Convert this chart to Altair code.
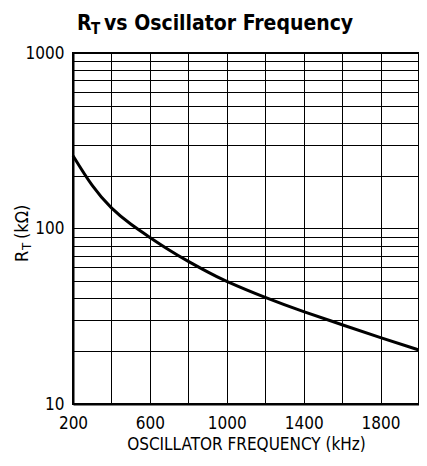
import altair as alt
import pandas as pd

freq = [200, 300, 400, 500, 600, 700, 800, 900, 1000, 1200, 1400, 1600, 1800, 2000]
rt = [260, 176, 131, 106, 89, 75.5, 65, 56.6, 50, 40.5, 33.6, 28.3, 23.9, 20.3]

x_ticks = [200, 400, 600, 800, 1000, 1200, 1400, 1600, 1800, 2000]
x_labels = [200, 600, 1000, 1400, 1800]
y_ticks = [10, 20, 30, 40, 50, 60, 70, 80, 90, 100, 200, 300, 400, 500, 600, 700, 800, 900, 1000]
y_labels = [10, 100, 1000]

FONT = "DejaVu Sans Condensed, DejaVu Sans, sans-serif"

df = pd.DataFrame({"f": freq, "r": rt})

W, H = 346, 351

xlab_expr = "indexof([" + ",".join(str(v) for v in x_labels) + "], datum.value) >= 0 ? format(datum.value, 'd') : ''"
ylab_expr = "indexof([" + ",".join(str(v) for v in y_labels) + "], datum.value) >= 0 ? format(datum.value, 'd') : ''"

x = alt.X("f:Q", scale=alt.Scale(domain=[200, 2000], nice=False),
          axis=alt.Axis(values=x_ticks, labelExpr=xlab_expr, title="OSCILLATOR FREQUENCY (kHz)",
                        grid=True, ticks=False, labelPadding=11,
                        titleY=45, titleBaseline="alphabetic",
                        labelFontSize=17, titleFontSize=17, labelFont=FONT, titleFont=FONT,
                        titleFontWeight="normal", labelColor="black", titleColor="black",
                        gridColor="black", gridOpacity=1, gridWidth=1,
                        domainColor="black", domainWidth=2, labelFlush=False))
y = alt.Y("r:Q", scale=alt.Scale(type="log", domain=[10, 1000], nice=False),
          axis=alt.Axis(values=y_ticks, labelExpr=ylab_expr, title=None,
                        grid=True, ticks=False, labelPadding=9,
                        labelFontSize=17, labelFont=FONT, labelColor="black",
                        gridColor="black", gridOpacity=1, gridWidth=1,
                        domainColor="black", domainWidth=2, labelFlush=False))

line = alt.Chart(df).mark_line(color="black", strokeWidth=3, interpolate="natural").encode(x=x, y=y)

def txt(s, px, py, size, bold=False, angle=0):
    return alt.Chart(pd.DataFrame({"t": [s]})).mark_text(
        align="left", baseline="alphabetic", font=FONT, fontSize=size,
        fontWeight="bold" if bold else "normal", angle=angle, color="black"
    ).encode(text="t:N", x=alt.value(px), y=alt.value(py))

title_parts = [
    txt("R", 4, -23, 21, True),
    txt("T", 18, -19, 15, True),
    txt("vs Oscillator Frequency", 31, -23, 21, True),
]
ytitle_parts = [
    txt("R", -45, 209, 18, False, 270),
    txt("T", -42, 197, 13, False, 270),
    txt("(kΩ)", -45, 186, 18, False, 270),
]

chart = alt.layer(line, *title_parts, *ytitle_parts).properties(
    width=W, height=H,
    autosize=alt.AutoSizeParams(type="none"),
    padding={"left": 65, "top": 45, "right": 0, "bottom": 50},
).configure_view(stroke="black", strokeWidth=2)

chart.save("out.html", embed_options={"renderer": "svg", "actions": False})
